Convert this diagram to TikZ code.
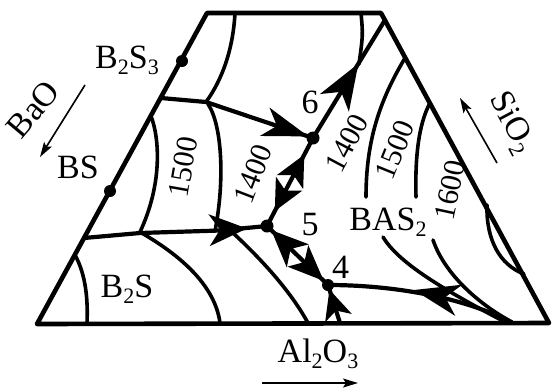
\documentclass[tikz,border=0pt]{standalone}
\usepackage{fontspec}
\setmainfont{Liberation Serif}
\usetikzlibrary{arrows.meta,calc}
\newcommand{\dsub}[1]{\raisebox{-0.2em}{\fontsize{22}{22}\selectfont #1}}
% filled stealth-like arrowhead: #1 point behind, #2 tip, #3 length, #4 half width, #5 inset
\newcommand{\ahead}[5]{%
  \coordinate (hK) at ($(#2)!#3!(#1)$);
  \fill[line join=miter] (#2) -- ($(hK)!#4!90:(#2)$) -- ($(hK)!#5!(#2)$) -- ($(hK)!#4!-90:(#2)$) -- cycle;
}
\begin{document}
\begin{tikzpicture}[x=1pt,y=-1pt,
  edge/.style={line width=4.6pt, line join=round, line cap=round},
  bnd/.style={line width=4.2pt, line cap=round, line join=round},
  iso/.style={line width=3.6pt, line cap=round},
  thinarr/.style={line width=1.6pt, -{Stealth[length=15pt,width=9pt,inset=3pt]}},
  dot/.style={circle, fill=black, inner sep=0pt, minimum size=#1},
  dot/.default=13pt,
  lab/.style={font=\fontsize{34}{36}\selectfont, inner sep=0pt},
  isolab/.style={font=\fontsize{30}{32}\selectfont, inner sep=0pt}
]
\useasboundingbox (0,0) rectangle (553,389);

% frame
\coordinate (TL) at (207,13);
\coordinate (TR) at (381,13);
\coordinate (BL) at (37,324);
\coordinate (BR) at (549,323);
\draw[edge] (TR) -- (TL) -- (BL) -- (BR) -- cycle;

% points
\node[dot=12pt] (b2s3) at (182,61) {};
\node[dot=12pt] (bs) at (110,191) {};
\node[dot] (p6) at (313,138) {};
\node[dot] (p5) at (267,226) {};
\node[dot=12pt] (p4) at (328,285) {};

\coordinate (j1) at (206,102);
\coordinate (c6) at (385,20);
\coordinate (b4) at (340,323);
\coordinate (r4) at (510,322);

% upper-left curves
\draw[iso] (235,13) .. controls (233,50) and (222,80) .. (j1);
\draw[bnd] (161,98) -- (j1) -- (p6.center);
\draw[iso] (151,116) .. controls (160,140) and (162,185) .. (140,232);
\draw[iso] (208,104) .. controls (222,125) and (225,180) .. (215,231);

% boundary towards 5
\draw[bnd] (84,238) -- (140,233) -- (220,230.5) -- (p5.center);

% 5 - 6, 6 - corner, 5 - 4, 4 - bottom, 4 - right
\draw[bnd] (p5.center) -- (p6.center);
\draw[bnd] (p6.center) -- (c6);
\draw[iso] (361,13) .. controls (363,35) .. (359,64);
\draw[bnd] (p5.center) -- (p4.center);
\draw[bnd] (b4) -- (p4.center);
\draw[bnd] (p4.center) .. controls (400,285) and (470,300) .. (r4);

% arrowheads
\coordinate (t6) at ($(p6.center)!5pt!(j1)$);
\ahead{j1}{t6}{46pt}{15pt}{13pt}
\coordinate (a5f) at (190,231);
\coordinate (a5t) at (247,228.5);
\ahead{a5f}{a5t}{38pt}{16pt}{11pt}
\coordinate (t56a) at ($(p5.center)!0.81!(p6.center)$);
\coordinate (t56b) at ($(p5.center)!0.17!(p6.center)$);
\ahead{p5.center}{t56a}{31pt}{15pt}{8pt}
\ahead{p6.center}{t56b}{31pt}{15pt}{8pt}
\coordinate (tc6) at ($(p6.center)!0.63!(c6)$);
\ahead{p6.center}{tc6}{46pt}{17pt}{13pt}
\coordinate (t54a) at ($(p5.center)!0.07!(p4.center)$);
\coordinate (t54b) at ($(p5.center)!0.93!(p4.center)$);
\ahead{p4.center}{t54a}{37pt}{16pt}{10pt}
\ahead{p5.center}{t54b}{36pt}{15pt}{9pt}
\coordinate (tb4) at ($(b4)!0.88!(p4.center)$);
\ahead{b4}{tb4}{30pt}{14pt}{8pt}
\coordinate (ar1) at (475,304);
\coordinate (ar2) at (414,290);
\ahead{ar1}{ar2}{46pt}{16pt}{14pt}

% lower-left curves
\draw[iso] (75,255) .. controls (86,275) and (88,300) .. (87,323);
\draw[iso] (140,232) .. controls (180,255) and (215,285) .. (220,323);
\draw[iso] (232,232) .. controls (260,258) and (290,290) .. (308,323);

% right isotherms
\draw[iso] (405,58) .. controls (380,100) and (366,140) .. (366,197);
\draw[iso] (430,103) .. controls (418,125) and (415,160) .. (416,197);
\draw[iso] (383,237) .. controls (398,262) and (440,288) .. (505,322);
\draw[iso] (433,240) .. controls (445,275) and (480,305) .. (512,322);
\draw[iso] (487,205) .. controls (486,240) and (500,265) .. (524,274);

% labels
\node[lab,anchor=base] (lb2s3) at (127,68) {B\dsub{2}S\dsub{3}};
\node[lab,anchor=base] (lbs) at (78,178) {BS};
\node[lab,anchor=base] (lb2s) at (127,297) {B\dsub{2}S};
\node[lab,anchor=base] (lbas) at (388,230) {BAS\dsub{2}};
\node[lab,anchor=base] (lal) at (318,362) {Al\dsub{2}O\dsub{3}};
\node[lab,anchor=base] (l6) at (310,113) {6};
\node[lab,anchor=base] (l5) at (310,235) {5};
\node[lab,anchor=base] (l4) at (340.5,278) {4};
\node[lab,rotate=50] (lbao) at (33,109) {BaO};
\node[lab,rotate=-62] (lsio) at (511,123) {SiO\dsub{2}};

\node[isolab,rotate=80] (t1) at (183,167) {1500};
\node[isolab,rotate=69] (t2) at (253,174) {1400};
\node[isolab,rotate=62] (t3) at (347,143) {1400};
\node[isolab,rotate=68] (t4) at (395,150) {1500};
\node[isolab,rotate=78] (t5) at (450,190) {1600};

% composition arrows
\coordinate (ba1) at (85,85);
\coordinate (ba2) at (40,157);
\draw[thinarr] (ba1) -- (ba2);
\coordinate (si1) at (497,163);
\coordinate (si2) at (460,98);
\draw[thinarr] (si1) -- (si2);
\coordinate (al1) at (262,383);
\coordinate (al2) at (358,383);
\draw[thinarr] (al1) -- (al2);
\end{tikzpicture}
\end{document}
